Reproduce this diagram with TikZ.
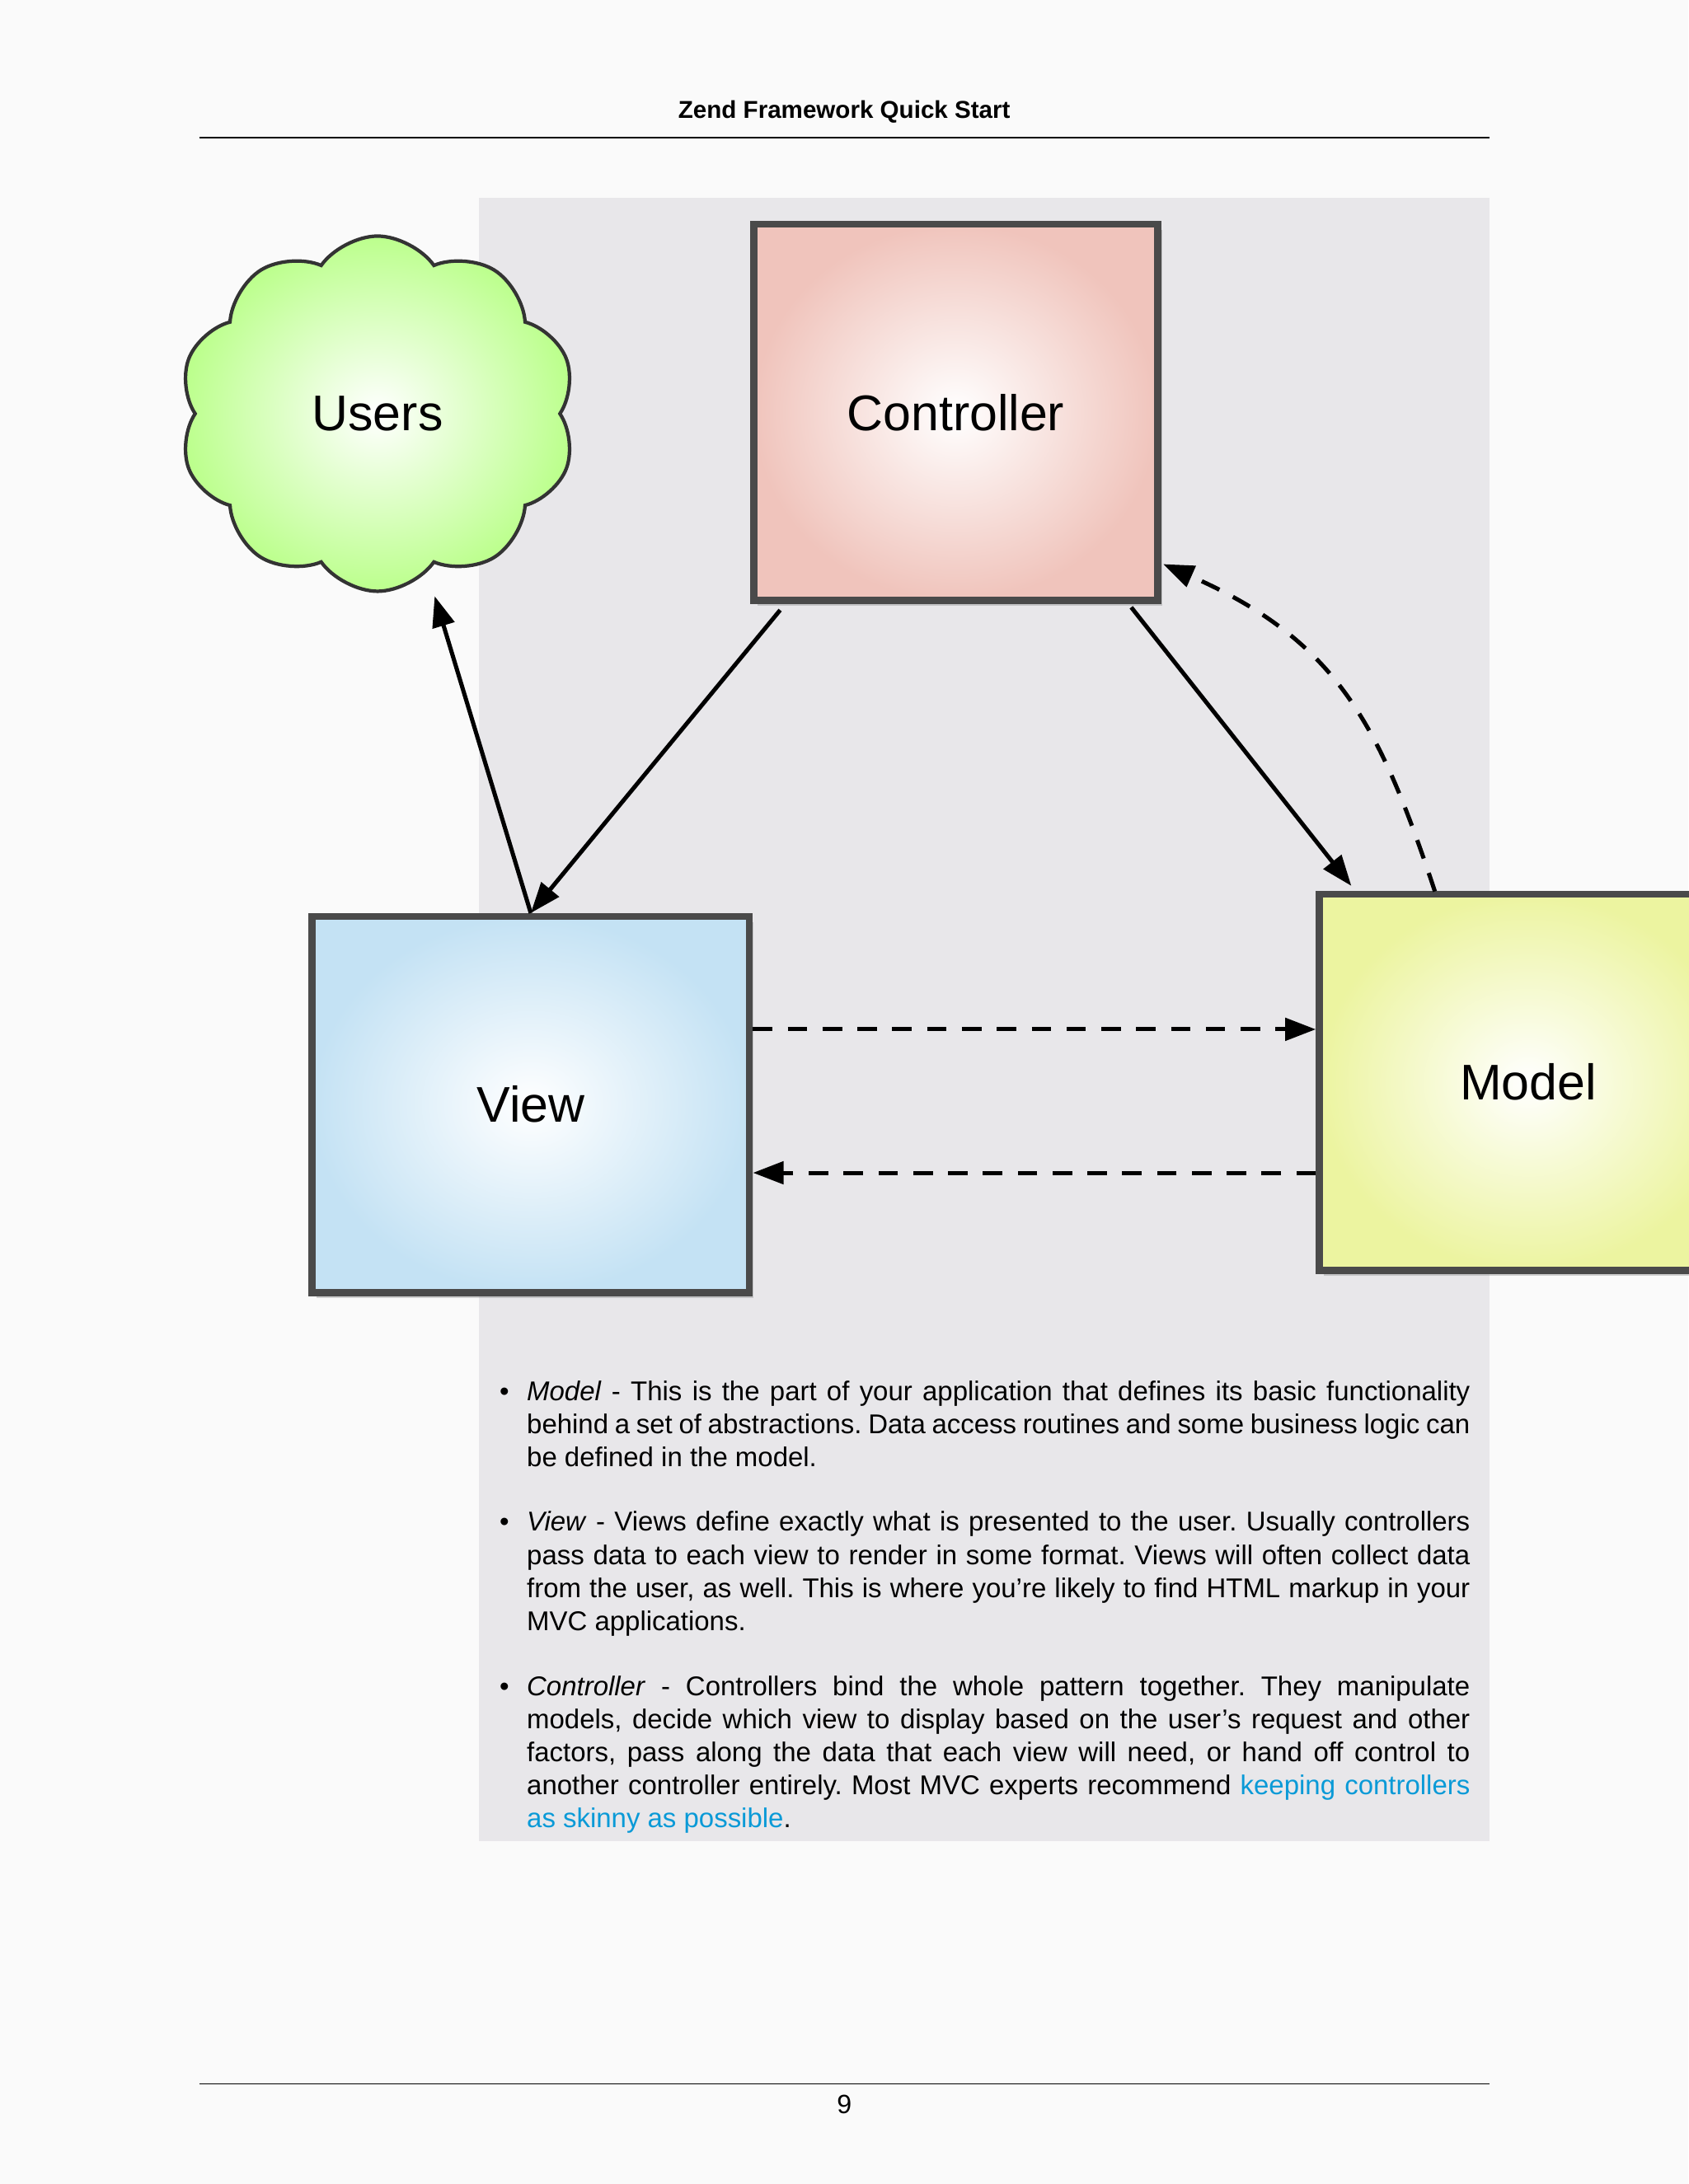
\documentclass[tikz,border=0pt]{standalone}
\usepackage{fontspec}
\setmainfont{Liberation Sans}
\usetikzlibrary{shapes.symbols,shadows,arrows.meta}
\definecolor{bg}{HTML}{E8E7EA}
\definecolor{lnk}{HTML}{0A9AD7}
\definecolor{bd}{HTML}{4A4A4A}
\tikzset{
 box/.style={draw=bd,line width=5pt,minimum width=#1,drop shadow={opacity=0.35,shadow xshift=3pt,shadow yshift=-4pt},font=\fontsize{36}{40}\selectfont},
 con/.style={line width=3pt,-{Triangle[length=22pt,width=16pt]}},
 dcon/.style={con,dash pattern=on 14pt off 11pt},
 para/.style={anchor=north west,text width=677pt,align=justify,inner sep=0pt,font=\fontsize{19.5}{23.7}\selectfont,execute at begin node={\frenchspacing\hyphenpenalty=10000\relax\exhyphenpenalty=10000\relax}},
 bul/.style={anchor=north,inner sep=0pt,font=\fontsize{19.5}{23.7}\selectfont}
}
\begin{document}
\begin{tikzpicture}[x=1pt,y=-1pt]
\useasboundingbox (0,0) rectangle (1212,1568);
\fill[white!98!black] (0,0) rectangle (1212,1568);
\node[font=\bfseries\fontsize{17.5}{20}\selectfont] (hdr) at (606,80) {Zend Framework Quick Start};
\draw[line width=1pt] (143,99) -- (1069,99);
\fill[bg] (344,142) rectangle (1069,1322);
\node[cloud,cloud puffs=10,cloud puff arc=110,aspect=1.1,minimum width=285pt,minimum height=255pt,draw=black!80,line width=2.5pt,inner color=white,outer color=green!45!lime!45!white,font=\fontsize{36}{40}\selectfont] (users) at (271,297) {Users};
\node[box=290pt,minimum height=270pt,inner color=white,outer color={rgb,255:red,240;green,196;blue,188}] (ctrl) at (686,296) {Controller};
\node[box=314pt,minimum height=270pt,inner color=white,outer color={rgb,255:red,196;green,226;blue,244}] (view) at (381,793) {View};
\node[box=300pt,minimum height=270pt,inner color=white,outer color={rgb,255:red,236;green,244;blue,160}] (model) at (1097,777) {Model};
\draw[con] (560,438) -- (view.north);
\draw[con] (view.north) -- (312,428);
\draw[con] (812,436) -- (970,636);
\draw[dcon] (1030,640) .. controls (990,520) and (960,460) .. (835,405);
\draw[dcon] (view.east |- 0,739) -- (model.west |- 0,739);
\draw[dcon] (model.west |- 0,842) -- (view.east |- 0,842);
\node[bul] (b1) at (362,996) {•};
\node[para] (p1) at (378,991) {\textit{Model} - This is the part of your application that defines its basic functionality behind a set of abstractions. Data access routines and some business logic can be defined in the model.};
\node[bul] (b2) at (362,1090) {•};
\node[para] (p2) at (378,1085) {\textit{View} - Views define exactly what is presented to the user. Usually controllers pass data to each view to render in some format. Views will often collect data from the user, as well. This is where you're likely to find HTML markup in your MVC applications.};
\node[bul] (b3) at (362,1208) {•};
\node[para] (p3) at (378,1203) {\textit{Controller} - Controllers bind the whole pattern together. They manipulate models, decide which view to display based on the user's request and other factors, pass along the data that each view will need, or hand off control to another controller entirely. Most MVC experts recommend \textcolor{lnk}{keeping controllers as skinny as possible}.};
\draw[line width=1pt] (143,1496) -- (1069,1496);
\node[font=\fontsize{19}{22}\selectfont] (pg) at (606,1511) {9};
\end{tikzpicture}
\end{document}
